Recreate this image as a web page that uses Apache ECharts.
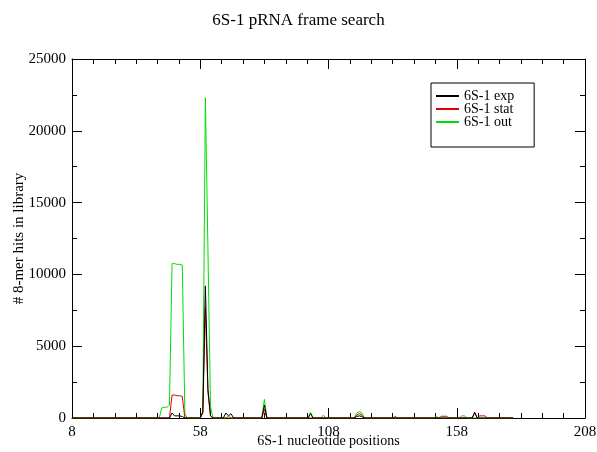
<!DOCTYPE html>
<html><head><meta charset="utf-8">
<script src="https://cdn.jsdelivr.net/npm/echarts@6/dist/echarts.min.js"></script>
<style>html,body{margin:0;padding:0;background:#fff}#c{width:597px;height:452px}</style>
</head><body><div id="c"></div>
<script>
var titleText = '6S-1 pRNA frame search';
var xName = '6S-1 nucleotide positions';
var yName = '# 8-mer hits in library';
var seriesNames = ['6S-1 exp', '6S-1 stat', '6S-1 out'];

var expPos = [8, 46, 47, 48, 49, 50, 51, 52, 58, 59, 60, 61, 62, 63, 67, 68, 69, 70, 71, 82, 83, 84, 100, 101, 102, 118, 119, 120, 121, 122, 164, 165, 166, 180];
var expVal = [0, 0, 350, 150, 150, 150, 100, 0, 0, 400, 9200, 2000, 150, 0, 0, 350, 150, 300, 0, 0, 900, 0, 0, 300, 0, 0, 100, 150, 100, 0, 0, 400, 0, 0];

var statPos = [8, 46, 47, 48, 49, 50, 51, 52, 58, 59, 60, 61, 62, 63, 82, 83, 84, 118, 119, 120, 121, 122, 133, 134, 135, 151, 152, 153, 154, 155, 164, 165, 166, 167, 168, 169, 170, 180];
var statVal = [0, 0, 1600, 1600, 1550, 1550, 1500, 0, 0, 350, 7700, 1800, 150, 0, 0, 600, 0, 0, 200, 300, 200, 0, 0, 100, 0, 0, 120, 120, 120, 0, 0, 350, 0, 150, 150, 150, 0, 0];

var outPos = [8, 42, 43, 44, 45, 46, 47, 48, 49, 50, 51, 52, 53, 58, 59, 60, 61, 62, 63, 68, 69, 70, 82, 83, 84, 100, 101, 102, 105, 106, 107, 118, 119, 120, 121, 122, 149, 150, 151, 159, 160, 161, 162, 180];
var outVal = [0, 0, 700, 750, 750, 900, 10750, 10750, 10700, 10700, 10650, 300, 0, 0, 500, 22300, 11700, 800, 0, 0, 150, 0, 0, 1300, 0, 0, 400, 0, 0, 200, 0, 0, 350, 450, 350, 0, 0, 100, 0, 0, 150, 150, 0, 0];

var xTicks = [8, 58, 108, 158, 208];
var yTicks = [0, 5000, 10000, 15000, 20000, 25000];

function pairs(p, v) { return p.map(function (x, i) { return [x, v[i]]; }); }

var serif = '"Liberation Serif", "DejaVu Serif", serif';
var chart = echarts.init(document.getElementById('c'), null, {renderer: 'canvas'});

function xAx(pos, showLabel) {
  return {
    type: 'value', position: pos, min: xTicks[0], max: xTicks[xTicks.length - 1], interval: 50,
    axisLine: {show: true, onZero: false, lineStyle: {color: '#000', width: 1}},
    axisTick: {show: true, inside: true, length: 10, lineStyle: {color: '#000'}},
    minorTick: {show: true, splitNumber: 6, length: 5, lineStyle: {color: '#000'}},
    splitLine: {show: false},
    axisLabel: {show: showLabel, color: '#000', fontFamily: serif, fontSize: 15, margin: 7,
      formatter: function (v) { return String(v); }},
    name: showLabel ? xName : '', nameLocation: 'middle', nameGap: 16, nameMoveOverlap: false,
    nameTextStyle: {color: '#000', fontFamily: serif, fontSize: 14}
  };
}
function yAx(pos, showLabel) {
  return {
    type: 'value', position: pos, min: yTicks[0], max: yTicks[yTicks.length - 1], interval: 5000,
    axisLine: {show: true, onZero: false, lineStyle: {color: '#000', width: 1}},
    axisTick: {show: true, inside: true, length: 10, lineStyle: {color: '#000'}},
    minorTick: {show: true, splitNumber: 2, length: 5, lineStyle: {color: '#000'}},
    splitLine: {show: false},
    axisLabel: {show: showLabel, color: '#000', fontFamily: serif, fontSize: 15, margin: 6,
      formatter: function (v) { return String(v); }},
    name: showLabel ? yName : '', nameLocation: 'middle', nameGap: 45, nameMoveOverlap: false,
    nameTextStyle: {color: '#000', fontFamily: serif, fontSize: 15}
  };
}

var colors = ['#000000', '#dd0000', '#00dd00'];
var data = [pairs(expPos, expVal), pairs(statPos, statVal), pairs(outPos, outVal)];
var series = [];
for (var i = 0; i < 3; i++) {
  series.push({
    name: seriesNames[i], type: 'line', data: data[i], symbol: 'none', showSymbol: false,
    xAxisIndex: 0, yAxisIndex: 0, z: 10 - i, animation: false,
    lineStyle: {color: colors[i], width: 1}, itemStyle: {color: colors[i]}
  });
}

chart.setOption({
  animation: false,
  backgroundColor: '#fff',
  title: {text: titleText, left: 'center', top: 7,
    textStyle: {fontFamily: serif, fontSize: 17, fontWeight: 'normal', color: '#000'}},
  grid: {left: 72, top: 59, right: 12, bottom: 34, containLabel: false, outerBoundsMode: 'none'},
  xAxis: [xAx('bottom', true), xAx('top', false)],
  yAxis: [yAx('left', true), yAx('right', false)],
  legend: {
    data: seriesNames, orient: 'vertical', left: 431, top: 83,
    padding: [6, 20, 18, 4], itemGap: -1, itemWidth: 23, itemHeight: 12,
    itemStyle: {opacity: 0},
    borderColor: '#000', borderWidth: 1, backgroundColor: '#fff',
    textStyle: {fontFamily: serif, fontSize: 14, color: '#000'}
  },
  series: series
});
</script></body></html>
